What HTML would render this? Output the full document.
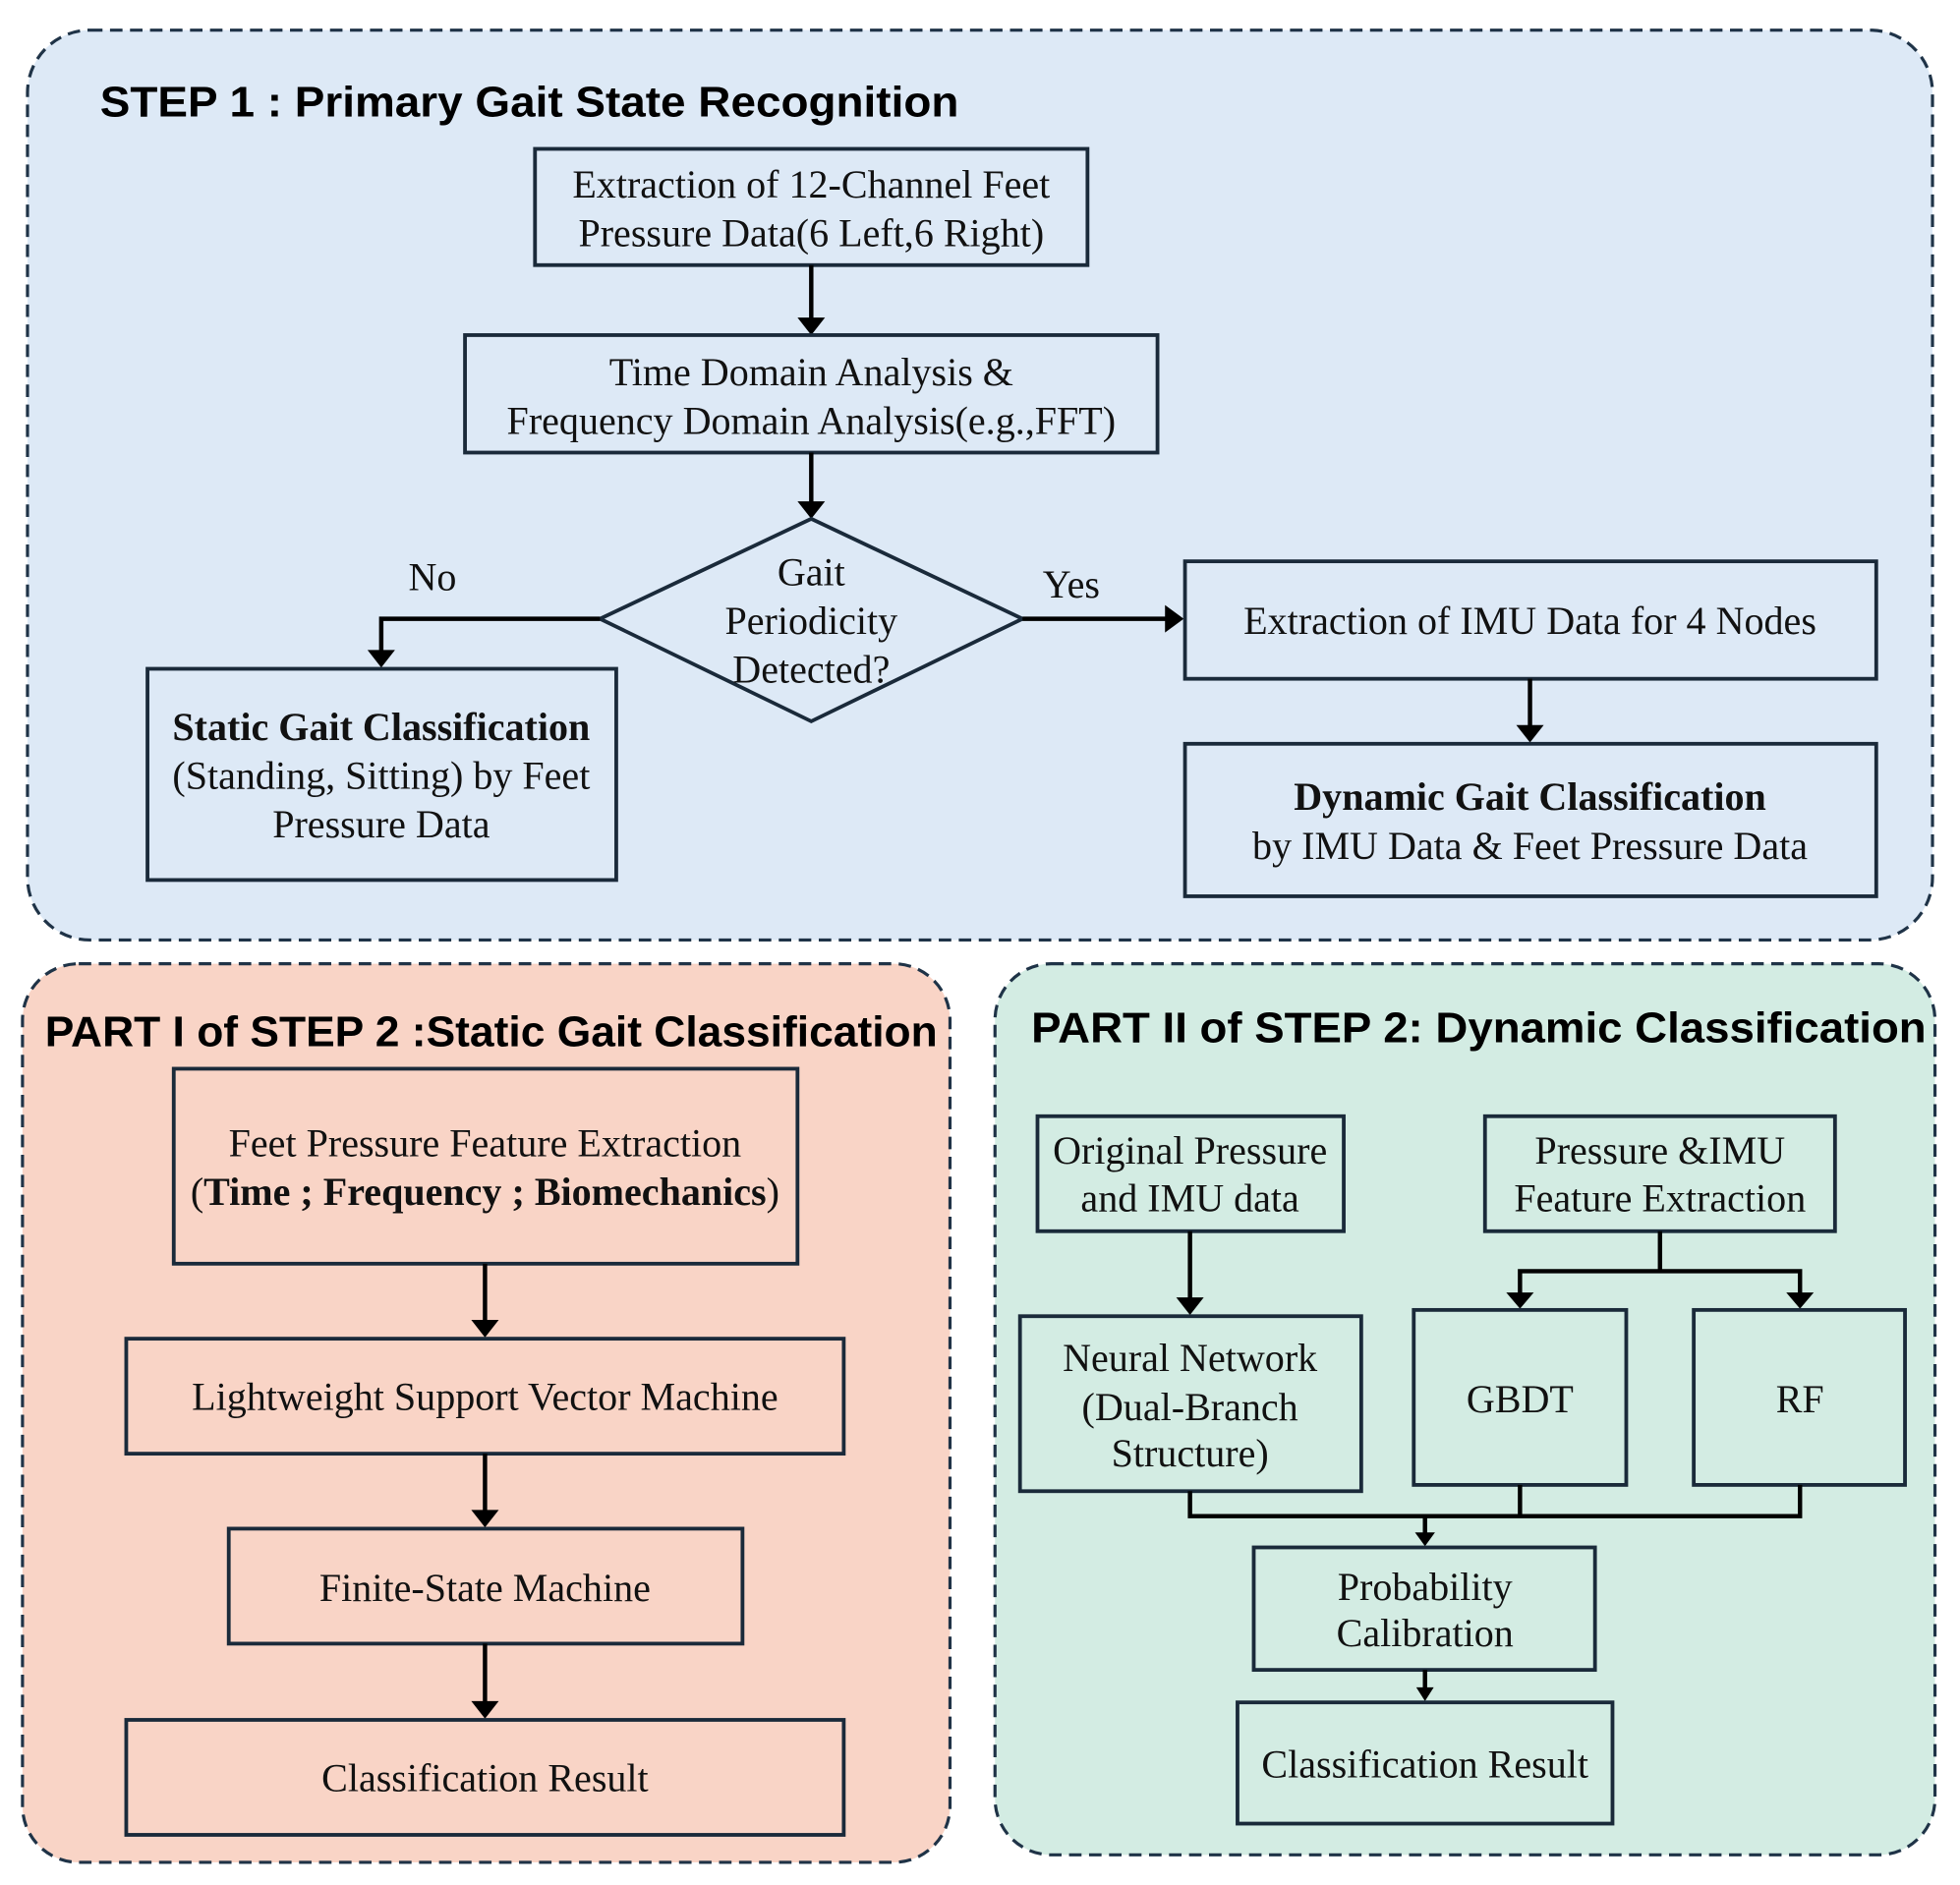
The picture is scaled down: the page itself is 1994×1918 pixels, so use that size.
<!DOCTYPE html>
<html><head><meta charset="utf-8"><style>html,body{margin:0;padding:0;background:#fff}svg{display:block}</style></head>
<body>
<svg width="1994" height="1918" viewBox="0 0 1568 1508" xmlns="http://www.w3.org/2000/svg">
<style>
.p{stroke:#1f3347;stroke-width:2.5;stroke-dasharray:10 6;}
.b{fill:none;stroke:#1a2a3a;stroke-width:3}
.l{fill:none;stroke:#000;stroke-width:3.5}
.t{font-family:"Liberation Serif",serif;font-size:31.5px;fill:#111;text-anchor:middle}
.h{font-family:"Liberation Sans",sans-serif;font-size:34px;font-weight:bold;fill:#000}
.ah{fill:#000}
</style>
<rect x="22" y="24" width="1524" height="728" rx="50" fill="#dde9f6" class="p"/>
<rect x="18" y="771" width="742" height="719" rx="45" fill="#f9d4c6" class="p"/>
<rect x="796" y="771" width="752" height="713" rx="45" fill="#d3ece3" class="p"/>

<text x="80" y="93" class="h" textLength="687" lengthAdjust="spacingAndGlyphs">STEP 1 :  Primary Gait State Recognition</text>
<text x="36" y="837" class="h" textLength="714" lengthAdjust="spacingAndGlyphs">PART I of STEP 2 :Static Gait Classification</text>
<text x="825" y="834" class="h" textLength="716" lengthAdjust="spacingAndGlyphs">PART II of STEP 2:  Dynamic  Classification</text>

<!-- Step1 -->
<rect x="428" y="119" width="442" height="93" class="b"/>
<text x="649" y="158" class="t">Extraction of 12-Channel Feet</text>
<text x="649" y="197" class="t">Pressure Data(6 Left,6 Right)</text>
<line x1="649" y1="212" x2="649" y2="256" class="l"/><polygon points="638,254 660,254 649,268" class="ah"/>
<rect x="372" y="268" width="554" height="94" class="b"/>
<text x="649" y="308" class="t">Time Domain Analysis &amp;</text>
<text x="649" y="347" class="t">Frequency Domain Analysis(e.g.,FFT)</text>
<line x1="649" y1="362" x2="649" y2="403" class="l"/><polygon points="638,401 660,401 649,415" class="ah"/>
<polygon points="649,415 818,495 649,577 480,495" class="b"/>
<text x="649" y="468" class="t">Gait</text>
<text x="649" y="507" class="t">Periodicity</text>
<text x="649" y="546" class="t">Detected?</text>
<polyline points="480,495 305,495 305,522" class="l"/><polygon points="294,520 316,520 305,534" class="ah"/>
<text x="346" y="472" class="t">No</text>
<line x1="818" y1="495" x2="934" y2="495" class="l"/><polygon points="932,484 932,506 947,495" class="ah"/>
<text x="857" y="478" class="t">Yes</text>
<rect x="118" y="535" width="375" height="169" class="b"/>
<text x="305" y="592" class="t" font-weight="bold">Static Gait Classification</text>
<text x="305" y="631" class="t">(Standing, Sitting) by Feet</text>
<text x="305" y="670" class="t">Pressure Data</text>
<rect x="948" y="449" width="553" height="94" class="b"/>
<text x="1224" y="507" class="t">Extraction of IMU Data for 4 Nodes</text>
<line x1="1224" y1="543" x2="1224" y2="582" class="l"/><polygon points="1213,580 1235,580 1224,594" class="ah"/>
<rect x="948" y="595" width="553" height="122" class="b"/>
<text x="1224" y="648" class="t" font-weight="bold">Dynamic Gait Classification</text>
<text x="1224" y="687" class="t">by IMU Data &amp; Feet Pressure Data</text>

<!-- Part I -->
<rect x="139" y="855" width="499" height="156" class="b"/>
<text x="388" y="925" class="t">Feet  Pressure Feature Extraction</text>
<text x="388" y="964" class="t">(<tspan font-weight="bold">Time ; Frequency ; Biomechanics</tspan>)</text>
<line x1="388" y1="1011" x2="388" y2="1058" class="l"/><polygon points="377,1056 399,1056 388,1070" class="ah"/>
<rect x="101" y="1071" width="574" height="92" class="b"/>
<text x="388" y="1128" class="t">Lightweight Support Vector Machine</text>
<line x1="388" y1="1163" x2="388" y2="1210" class="l"/><polygon points="377,1208 399,1208 388,1222" class="ah"/>
<rect x="183" y="1223" width="411" height="92" class="b"/>
<text x="388" y="1281" class="t">Finite-State Machine</text>
<line x1="388" y1="1315" x2="388" y2="1363" class="l"/><polygon points="377,1361 399,1361 388,1375" class="ah"/>
<rect x="101" y="1376" width="574" height="92" class="b"/>
<text x="388" y="1433" class="t">Classification Result</text>

<!-- Part II -->
<rect x="830" y="893" width="245" height="92" class="b"/>
<text x="952" y="931" class="t">Original Pressure</text>
<text x="952" y="969" class="t">and IMU data</text>
<rect x="1188" y="893" width="280" height="92" class="b"/>
<text x="1328" y="931" class="t">Pressure &amp;IMU</text>
<text x="1328" y="969" class="t">Feature Extraction</text>
<line x1="952" y1="985" x2="952" y2="1040" class="l"/><polygon points="941,1038 963,1038 952,1052" class="ah"/>
<polyline points="1328,985 1328,1017" class="l"/>
<polyline points="1216,1036 1216,1017 1440,1017 1440,1036" class="l"/>
<polygon points="1205,1034 1227,1034 1216,1047" class="ah"/><polygon points="1429,1034 1451,1034 1440,1047" class="ah"/>
<rect x="816" y="1053" width="273" height="140" class="b"/>
<text x="952" y="1097" class="t">Neural Network</text>
<text x="952" y="1136" class="t">(Dual-Branch</text>
<text x="952" y="1173" class="t">Structure)</text>
<rect x="1131" y="1048" width="170" height="140" class="b"/>
<text x="1216" y="1130" class="t">GBDT</text>
<rect x="1355" y="1048" width="169" height="140" class="b"/>
<text x="1440" y="1130" class="t">RF</text>
<polyline points="952,1193 952,1213 1440,1213 1440,1188" class="l"/>
<line x1="1216" y1="1188" x2="1216" y2="1213" class="l"/>
<line x1="1140" y1="1213" x2="1140" y2="1228" class="l"/><polygon points="1132,1226 1148,1226 1140,1237" class="ah"/>
<rect x="1003" y="1238" width="273" height="98" class="b"/>
<text x="1140" y="1280" class="t">Probability</text>
<text x="1140" y="1317" class="t">Calibration</text>
<line x1="1140" y1="1336" x2="1140" y2="1352" class="l"/><polygon points="1133,1350 1147,1350 1140,1361" class="ah"/>
<rect x="990" y="1362" width="300" height="97" class="b"/>
<text x="1140" y="1422" class="t">Classification Result</text>
</svg>
</body></html>
